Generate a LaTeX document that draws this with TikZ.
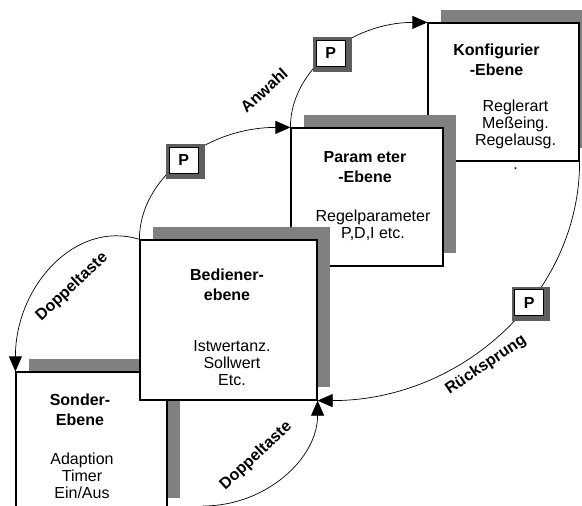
\documentclass[tikz,border=0pt]{standalone}
\usepackage{fontspec}
\setmainfont{Liberation Sans}
\usetikzlibrary{positioning,shadows,arrows.meta}
\definecolor{shadegray}{HTML}{808080}
\definecolor{keygray}{HTML}{5E5E5E}

\begin{document}
\begin{tikzpicture}[x=1pt, y=-1pt,
    ebenebox/.style = {draw, line width=1.2pt, fill=white, inner sep=0pt,
      drop shadow={shadow xshift=13pt, shadow yshift=13pt, fill=shadegray, opacity=1}},
    head/.style = {font=\fontsize{16}{20}\selectfont\bfseries, align=center, inner sep=0pt},
    body/.style = {font=\fontsize{16}{17}\selectfont, align=center, inner sep=0pt},
    pkey/.style = {draw, line width=0.6pt, fill=white, inner sep=0pt,
      minimum width=29pt, minimum height=26pt, font=\fontsize{16}{16}\selectfont\bfseries,
      drop shadow={shadow xshift=1.5pt, shadow yshift=-1pt, shadow scale=1.33, fill=keygray, opacity=1}},
    jump/.style = {line width=0.7pt, -{Triangle[length=15pt, width=13pt]}},
    lbl/.style = {font=\fontsize{16}{16}\selectfont\bfseries, inner sep=0pt}]
  \useasboundingbox (0,0) rectangle (582,506);
  \clip (0,0) rectangle (582,506);

  % levels, back to front
  \node[ebenebox, minimum width=151pt, minimum height=138pt] (konf) at (503.5,92) {};
  \node[head, below=21pt of konf.north, xshift=-7pt] (konfhead) {Konfigurier\\-Ebene};
  \node[body, below=77pt of konf.north, xshift=12pt] (konfbody) {Reglerart\\Meßeing.\\Regelausg.\\[7pt].};

  \node[ebenebox, minimum width=152pt, minimum height=138pt] (par) at (367,197) {};
  \node[head, below=24pt of par.north, xshift=-2pt] (parhead) {Param eter\\-Ebene};
  \node[body, below=82pt of par.north, xshift=6pt] (parbody) {Regelparameter\\P,D,I etc.};

  \node[ebenebox, minimum width=151pt, minimum height=139pt] (son) at (91.5,441.5) {};
  \node[head, below=22pt of son.north, xshift=-11.5pt] (sonhead) {Sonder-\\Ebene};
  \node[body, below=81pt of son.north, xshift=-9.5pt] (sonbody) {Adaption\\Timer\\Ein/Aus};

  \node[ebenebox, minimum width=177pt, minimum height=160pt] (bed) at (228.5,320) {};
  \node[head, below=29pt of bed.north, xshift=-1.5pt] (bedhead) {Bediener-\\ebene};
  \node[body, below=101pt of bed.north, xshift=3.5pt] (bedbody) {Istwertanz.\\Sollwert\\Etc.};

  % transitions
  \coordinate (dtstart) at (203,506);
  \draw[jump] (bed.north west) .. controls +(0,-62) and +(-83,0) .. (par.north west) node[pkey, pos=.5] (p1) {P};
  \draw[jump] (par.north west) .. controls +(0,-58) and +(-75,0) .. (konf.north west) node[pkey, pos=.5] (p2) {P};
  \draw[jump] (konf.south east) .. controls +(0,132) and +(145,0) .. (bed.south east) node[pkey, pos=.4] (p3) {P};
  \draw[jump] (bed.north west) .. controls +(-63,-20) and +(0,-86) .. (son.north west);
  \draw[jump] (dtstart) .. controls +(63,0) and +(0,58) .. (bed.south east);

  \node[lbl, rotate=42] (anwahl) at (264,90) {Anwahl};
  \node[lbl, rotate=43] (dtleft) at (72,287) {Doppeltaste};
  \node[lbl, rotate=43] (dtbottom) at (256,456) {Doppeltaste};
  \node[lbl, rotate=34] (rueck) at (486,365) {Rücksprung};
\end{tikzpicture}
\end{document}
